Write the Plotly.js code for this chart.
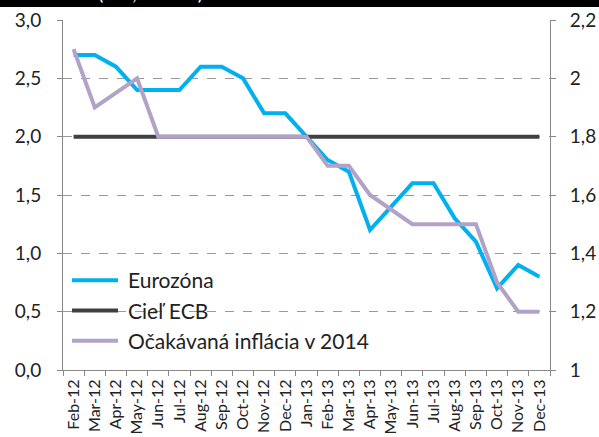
<!DOCTYPE html>
<html><head><meta charset="utf-8">
<script src="https://cdn.plot.ly/plotly-3.0.1.min.js"></script>
<style>html,body{margin:0;padding:0;background:#fff;}#c{width:599px;height:437px;}</style>
</head><body><div id="c"></div>
<script>
const months = ["Feb-12","Mar-12","Apr-12","May-12","Jun-12","Jul-12","Aug-12","Sep-12","Oct-12","Nov-12","Dec-12","Jan-13","Feb-13","Mar-13","Apr-13","May-13","Jun-13","Jul-13","Aug-13","Sep-13","Oct-13","Nov-13","Dec-13"];
const eurozona = [2.7,2.7,2.6,2.4,2.4,2.4,2.6,2.6,2.5,2.2,2.2,2.0,1.8,1.7,1.2,1.4,1.6,1.6,1.3,1.1,0.7,0.9,0.8];
const cielECB = [2,2,2,2,2,2,2,2,2,2,2,2,2,2,2,2,2,2,2,2,2,2,2];
const ocakavana = [2.1,1.9,1.95,2.0,1.8,1.8,1.8,1.8,1.8,1.8,1.8,1.8,1.7,1.7,1.6,1.55,1.5,1.5,1.5,1.5,1.3,1.2,1.2];
const leftTicks = [0,0.5,1,1.5,2,2.5,3];
const leftLabels = ["0,0","0,5","1,0","1,5","2,0","2,5","3,0"];
const rightTicks = [1,1.2,1.4,1.6,1.8,2,2.2];
const rightLabels = ["1","1,2","1,4","1,6","1,8","2","2,2"];
const names = ["Eurozóna","Cieľ ECB","Očakávaná inflácia v 2014"];
const titleText = "<b>roku 2014</b> (v %, ľavá os)";

const W=599,H=437,L=63,R=49,T=20,B=67;
const pw=W-L-R, ph=H-T-B;
const px=(x)=>(x-L)/pw, py=(y)=>(H-B-y)/ph;
const font = "Lato, sans-serif";
const fs = 19;

const traces = [
 {x:months,y:eurozona,name:names[0],type:"scatter",mode:"lines",line:{color:"#00B0F0",width:4},legendgroup:"a",yaxis:"y"},
 {x:months,y:cielECB,name:names[1],type:"scatter",mode:"lines",line:{color:"#404040",width:4},legendgroup:"b",yaxis:"y"},
 {x:months,y:ocakavana,name:names[2],type:"scatter",mode:"lines",line:{color:"#B3A2C7",width:4},legendgroup:"c",yaxis:"y2"}
];
const layout = {
 width:W,height:H,margin:{l:L,r:R,t:T,b:B,pad:0},
 paper_bgcolor:"#fff",plot_bgcolor:"#fff",
 font:{family:font,size:fs,color:"#222"},
 showlegend:true,
 legend:{x:px(72),y:py(260),xanchor:"left",yanchor:"top",bgcolor:"rgba(255,255,255,0)",font:{size:21,color:"#222"},tracegroupgap:10,traceorder:"normal",itemwidth:46},
 xaxis:{type:"category",range:[-0.5,22.5],tickmode:"linear",tick0:0,dtick:1,tickangle:-90,tickson:"boundaries",ticks:"outside",ticklen:5,tickcolor:"#888",ticklabelstandoff:2,showline:true,linecolor:"#888",linewidth:1,showgrid:false,zeroline:false,tickfont:{size:16,color:"#222"}},
 yaxis:{range:[0,3],tickvals:leftTicks,ticktext:leftLabels,ticks:"outside",ticklen:5,tickcolor:"#888",ticklabelstandoff:12,showline:true,linecolor:"#888",linewidth:1,showgrid:true,gridcolor:"#999",griddash:"dash",gridwidth:1,zeroline:false,tickfont:{size:fs,color:"#222"}},
 yaxis2:{range:[1,2.2],tickvals:rightTicks,ticktext:rightLabels,overlaying:"y",side:"right",ticks:"outside",ticklen:5,tickcolor:"#888",ticklabelstandoff:10,showline:true,linecolor:"#888",linewidth:1,showgrid:false,zeroline:false,tickfont:{size:fs,color:"#222"}},
 shapes:[{type:"rect",xref:"paper",yref:"paper",x0:px(0),x1:px(W),y0:py(7),y1:py(-20),fillcolor:"#000",line:{width:0},layer:"above"}],
 annotations:[{text:titleText,xref:"paper",yref:"paper",x:px(4),y:py(6),xanchor:"left",yanchor:"bottom",showarrow:false,font:{family:font,size:19,color:"#fff"}}]
};
Plotly.newPlot("c",traces,layout,{displayModeBar:false,staticPlot:true}).then(function(gd){
  gd.querySelectorAll(".legend .legendlines path").forEach(function(p){ p.setAttribute("d","M0,0h46"); });
});
</script></body></html>
